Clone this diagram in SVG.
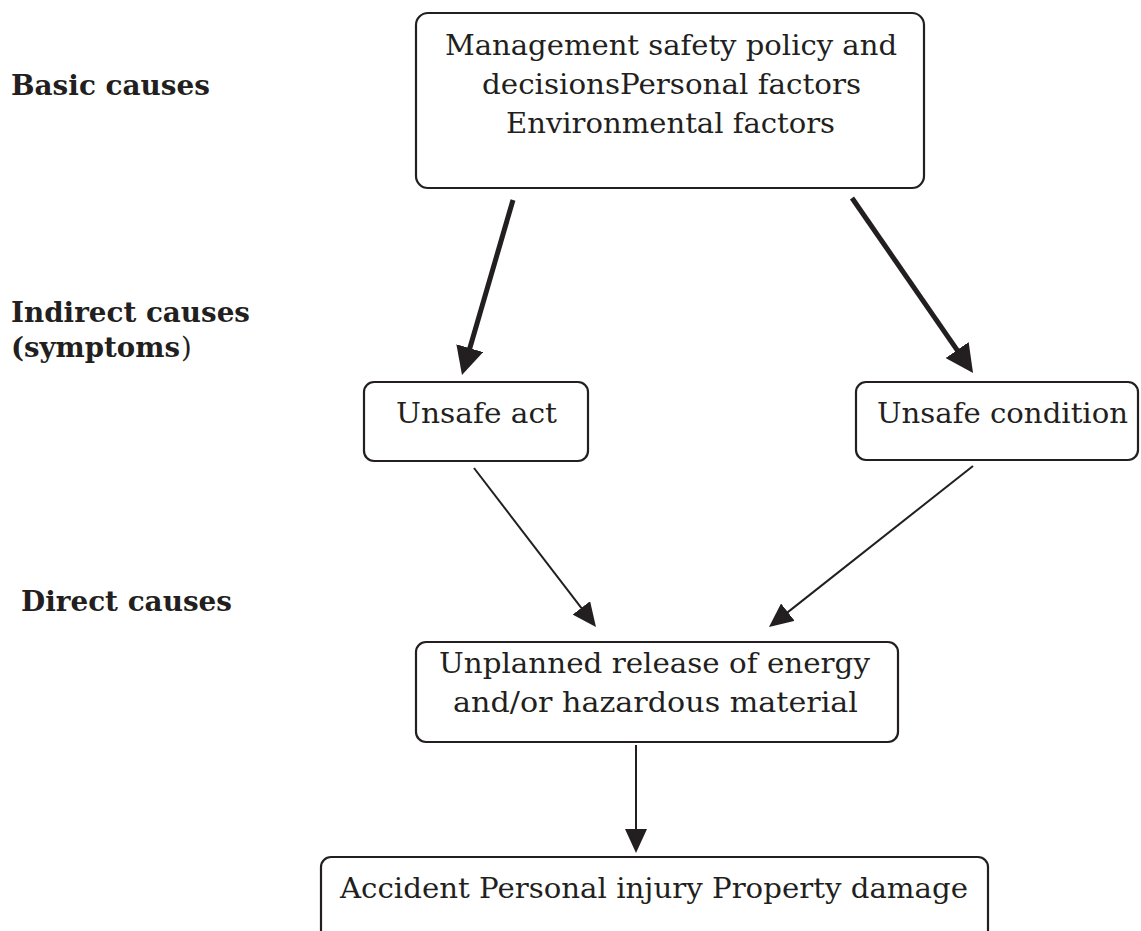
<svg xmlns="http://www.w3.org/2000/svg" width="1141" height="931" viewBox="0 0 1141 931">
  <style>
    .box { fill: #ffffff; stroke: #231f20; stroke-width: 2.2; }
    .txt { font-family: "DejaVu Serif", "Liberation Serif", serif; font-size: 27.5px; fill: #231f20; }
    .lbl { font-family: "DejaVu Serif", "Liberation Serif", serif; font-size: 28px; font-weight: bold; fill: #231f20; }
    .thick { stroke: #231f20; stroke-width: 5; fill: none; }
    .thin { stroke: #231f20; stroke-width: 2; fill: none; }
  </style>
  <defs>
    <marker id="headBig" viewBox="0 0 28 28" refX="4" refY="14" markerWidth="28" markerHeight="28" markerUnits="userSpaceOnUse" orient="auto">
      <path d="M0,0 L28,14 L0,28 z" fill="#231f20"/>
    </marker>
    <marker id="headSmall" viewBox="0 0 24 22" refX="4" refY="11" markerWidth="24" markerHeight="22" markerUnits="userSpaceOnUse" orient="auto">
      <path d="M0,0 L24,11 L0,22 z" fill="#231f20"/>
    </marker>
  </defs>

  <rect width="1141" height="931" fill="#ffffff"/>

  <!-- level labels -->
  <g id="labels">
    <text class="lbl" x="11" y="95" textLength="199" lengthAdjust="spacingAndGlyphs">Basic causes</text>
    <text class="lbl" x="11" y="322" textLength="239" lengthAdjust="spacingAndGlyphs">Indirect causes</text>
    <text class="lbl" x="11" y="357" textLength="169" lengthAdjust="spacingAndGlyphs">(symptoms</text>
    <text class="txt" x="181" y="357" font-size="28">)</text>
    <text class="lbl" x="21" y="611" textLength="211" lengthAdjust="spacingAndGlyphs">Direct causes</text>
  </g>

  <!-- connectors -->
  <g id="connectors">
    <line class="thick" x1="513" y1="200" x2="468.7" y2="352" marker-end="url(#headBig)"/>
    <line class="thick" x1="852" y1="198" x2="959.4" y2="353.3" marker-end="url(#headBig)"/>
    <line class="thin" x1="474" y1="468" x2="583.8" y2="611.1" marker-end="url(#headSmall)"/>
    <line class="thin" x1="973" y1="466" x2="784.7" y2="614.6" marker-end="url(#headSmall)"/>
    <line class="thin" x1="636" y1="745" x2="636" y2="833" marker-end="url(#headSmall)"/>
  </g>

  <!-- basic causes -->
  <g id="node-basic">
    <rect class="box" x="416" y="13" width="508" height="175" rx="12"/>
    <text class="txt" x="445" y="55" textLength="452" lengthAdjust="spacingAndGlyphs">Management safety policy and</text>
    <text class="txt" x="482" y="94" textLength="379" lengthAdjust="spacingAndGlyphs">decisionsPersonal factors</text>
    <text class="txt" x="506" y="133" textLength="329" lengthAdjust="spacingAndGlyphs">Environmental factors</text>
  </g>

  <!-- indirect causes -->
  <g id="node-unsafe-act">
    <rect class="box" x="364" y="382" width="224" height="79" rx="10"/>
    <text class="txt" x="396" y="423" textLength="161" lengthAdjust="spacingAndGlyphs">Unsafe act</text>
  </g>
  <g id="node-unsafe-condition">
    <rect class="box" x="856" y="382" width="282" height="78" rx="10"/>
    <text class="txt" x="877" y="423" textLength="251" lengthAdjust="spacingAndGlyphs">Unsafe condition</text>
  </g>

  <!-- direct causes -->
  <g id="node-release">
    <rect class="box" x="416" y="642" width="482" height="100" rx="10"/>
    <text class="txt" x="439" y="673" textLength="431" lengthAdjust="spacingAndGlyphs">Unplanned release of energy</text>
    <text class="txt" x="453" y="712" textLength="405" lengthAdjust="spacingAndGlyphs">and/or hazardous material</text>
  </g>

  <!-- outcome -->
  <g id="node-accident">
    <rect class="box" x="321" y="857" width="667" height="95" rx="10"/>
    <text class="txt" x="340" y="898" textLength="628" lengthAdjust="spacingAndGlyphs">Accident Personal injury Property damage</text>
  </g>
</svg>
